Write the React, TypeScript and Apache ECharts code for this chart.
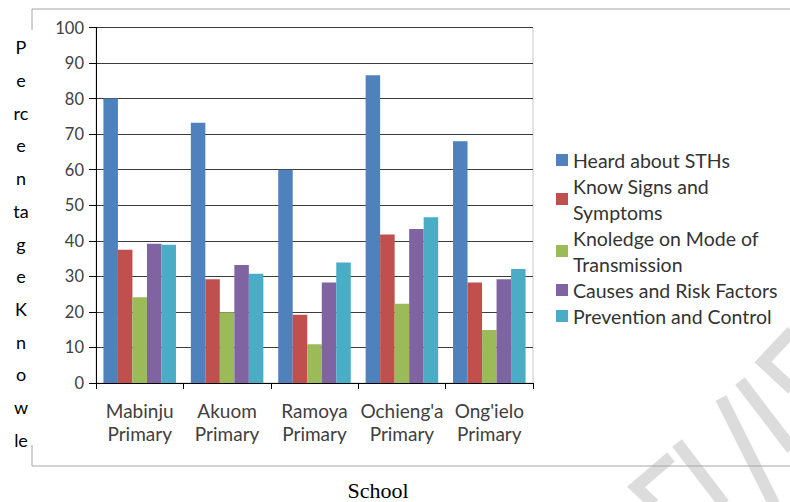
import React, { useEffect, useRef } from "react";
import * as echarts from "echarts";

const categories = [
  "Mabinju\nPrimary",
  "Akuom\nPrimary",
  "Ramoya\nPrimary",
  "Ochieng'a\nPrimary",
  "Ong'ielo\nPrimary",
];

const seriesNames = [
  "Heard about STHs",
  "Know Signs and Symptoms",
  "Knoledge on Mode of Transmission",
  "Causes and Risk Factors",
  "Prevention and Control",
];

const heardAbout = [80, 73.2, 60, 86.6, 68];
const signsSymptoms = [37.5, 29.2, 19.2, 41.8, 28.3];
const modeTransmission = [24.1, 19.9, 10.9, 22.3, 14.9];
const causesRisk = [39.2, 33.2, 28.3, 43.3, 29.2];
const preventionControl = [38.9, 30.7, 33.9, 46.6, 32.1];

const seriesValues = [heardAbout, signsSymptoms, modeTransmission, causesRisk, preventionControl];
const colors = ["#4F81BD", "#C0504D", "#9BBB59", "#8064A2", "#4BACC6"];

const yTicks = { min: 0, max: 100, interval: 10 };
const yAxisTitleLines = ["P", "e", "rc", "e", "n", "ta", "g", "e", "K", "n", "o", "w", "le"];
const xAxisTitle = "School";

const legendLabels: Record<string, string> = {
  "Know Signs and Symptoms": "Know Signs and\nSymptoms",
  "Knoledge on Mode of Transmission": "Knoledge on Mode of\nTransmission",
};

const FONT = "Lato, 'Open Sans', sans-serif";

export default function App() {
  const ref = useRef<HTMLDivElement>(null);

  useEffect(() => {
    if (!ref.current) return;
    const chart = echarts.init(ref.current, undefined, { renderer: "svg" });

    const wm = { stroke: "#dcdcdc", lineWidth: 12, lineCap: "butt", lineJoin: "miter", fill: null };
    const border = { stroke: "#a6a6a6", lineWidth: 1 };

    chart.setOption({
      animation: false,
      backgroundColor: "#ffffff",
      textStyle: { fontFamily: FONT },
      grid: {
        left: 96,
        right: 257,
        top: 27.5,
        bottom: 119,
        show: true,
        borderColor: "#c8c8c8",
        borderWidth: 1,
        containLabel: false,
      },
      legend: {
        orient: "vertical",
        left: 556,
        top: 147,
        padding: 0,
        itemGap: 0,
        itemWidth: 12,
        itemHeight: 12,
        icon: "rect",
        data: seriesNames,
        formatter: (name: string) => legendLabels[name] || name,
        textStyle: { fontFamily: FONT, fontSize: 19.5, lineHeight: 26, color: "#333333" },
      },
      xAxis: {
        type: "category",
        data: categories,
        axisLine: { show: true, lineStyle: { color: "#000000", width: 1 } },
        axisTick: { show: true, length: 6, lineStyle: { color: "#000000" } },
        axisLabel: {
          fontFamily: FONT,
          fontSize: 19,
          lineHeight: 23,
          color: "#404040",
          margin: 16,
          interval: 0,
        },
      },
      yAxis: {
        type: "value",
        min: yTicks.min,
        max: yTicks.max,
        interval: yTicks.interval,
        axisLine: { show: true, lineStyle: { color: "#000000", width: 1 } },
        axisTick: { show: true, length: 7, lineStyle: { color: "#000000" } },
        axisLabel: { fontFamily: FONT, fontSize: 16.5, color: "#404040", margin: 12 },
        splitLine: { show: true, lineStyle: { color: "#3c3c3c", width: 1 } },
      },
      series: seriesNames.map((name, i) => ({
        name,
        type: "bar",
        data: seriesValues[i],
        barGap: "0%",
        barCategoryGap: "17%",
        itemStyle: { color: colors[i] },
      })),
      graphic: [
        { type: "polyline", z: 0, shape: { points: [[792, 331], [763, 362], [792, 389]] }, style: wm, silent: true },
        { type: "line", z: 0, shape: { x1: 740, y1: 381, x2: 792, y2: 449 }, style: wm, silent: true },
        { type: "line", z: 0, shape: { x1: 721, y1: 398, x2: 774, y2: 504 }, style: wm, silent: true },
        { type: "line", z: 0, shape: { x1: 677, y1: 443, x2: 724, y2: 504 }, style: wm, silent: true },
        { type: "polyline", z: 0, shape: { points: [[671, 457], [636, 487], [654, 504]] }, style: wm, silent: true },
        { type: "line", z: 1, shape: { x1: 32, y1: 9, x2: 790, y2: 9 }, style: border, silent: true },
        { type: "line", z: 1, shape: { x1: 32, y1: 9, x2: 32, y2: 30 }, style: border, silent: true },
        { type: "line", z: 1, shape: { x1: 32, y1: 445, x2: 32, y2: 466 }, style: border, silent: true },
        { type: "line", z: 1, shape: { x1: 32, y1: 466, x2: 790, y2: 466 }, style: border, silent: true },
        {
          type: "text",
          z: 2,
          x: 21,
          y: 31,
          style: {
            text: yAxisTitleLines.join("\n"),
            fontFamily: FONT,
            fontSize: 18,
            lineHeight: 32.7,
            fill: "#000000",
            align: "center",
            verticalAlign: "top",
          },
        },
        {
          type: "text",
          z: 2,
          x: 378,
          y: 490,
          style: {
            text: xAxisTitle,
            fontFamily: "'Liberation Serif', 'DejaVu Serif', serif",
            fontSize: 22,
            fill: "#000000",
            align: "center",
            verticalAlign: "middle",
          },
        },
      ],
    });

    return () => chart.dispose();
  }, []);

  return (
    <div
      ref={ref}
      style={{ position: "fixed", left: 0, top: 0, width: 790, height: 502, background: "#fff" }}
    />
  );
}
